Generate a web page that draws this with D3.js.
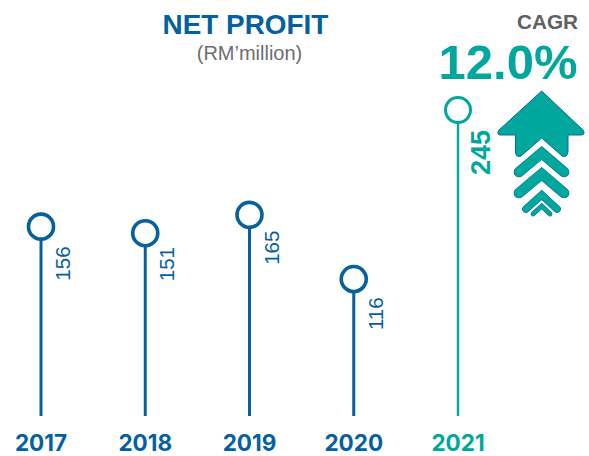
<!DOCTYPE html>
<html>
<head>
<meta charset="utf-8">
<script src="https://cdn.jsdelivr.net/npm/d3@7"></script>
<style>
  html, body { margin: 0; padding: 0; background: #fff; }
  svg { display: block; }
  text { font-family: "Liberation Sans", sans-serif; }
</style>
</head>
<body>
<div id="chart"></div>
<script>
// Chart data
var years = ["2017", "2018", "2019", "2020", "2021"];
var profit = [156, 151, 165, 116, 245];
var highlightYear = "2021";

var svgWidth = 589;
var svgHeight = 456;
var blue = "#04609e";
var teal = "#00a79d";

// Distance from head centre to the start of each rotated label
var labelDrop = { "2017": 54, "2018": 48, "2019": 50, "2020": 51, "2021": 65 };

var svg = d3.select("#chart")
  .append("svg")
  .attr("width", svgWidth)
  .attr("height", svgHeight);

// Scales - stems are cut off above the year labels, so the domain does not start at 0
var xScale = d3.scalePoint().domain(years).range([41, 458]);
var yScale = d3.scaleLinear().domain([11.5, 245]).range([416, 110]);

function colour(year) {
  return year === highlightYear ? teal : blue;
}

var rows = years.map(function(y, i) {
  return { year: y, value: profit[i] };
});

// Titles
svg.append("text")
  .attr("x", 245.5).attr("y", 34)
  .attr("text-anchor", "middle")
  .attr("font-size", 27.9).attr("font-weight", 700)
  .attr("fill", blue)
  .text("NET PROFIT");

svg.append("text")
  .attr("x", 249.5).attr("y", 60)
  .attr("text-anchor", "middle")
  .attr("font-size", 20)
  .attr("fill", "#6d6e71")
  .text("(RM’million)");

svg.append("text")
  .attr("x", 547.5).attr("y", 29)
  .attr("text-anchor", "middle")
  .attr("font-size", 20.7).attr("font-weight", 700)
  .attr("fill", "#5f6062")
  .text("CAGR");

svg.append("text")
  .attr("x", 508).attr("y", 79)
  .attr("text-anchor", "middle")
  .attr("font-size", 49).attr("font-weight", 700)
  .attr("fill", teal)
  .text("12.0%");

// Stems
svg.selectAll(".stem")
  .data(rows)
  .enter()
  .append("line")
  .attr("class", "stem")
  .attr("x1", d => xScale(d.year))
  .attr("x2", d => xScale(d.year))
  .attr("y1", d => yScale(d.value))
  .attr("y2", yScale(11.5))
  .attr("stroke", d => colour(d.year))
  .attr("stroke-width", d => d.year === highlightYear ? 2.4 : 3);

// Lollipop heads
svg.selectAll(".head")
  .data(rows)
  .enter()
  .append("circle")
  .attr("class", "head")
  .attr("cx", d => xScale(d.year))
  .attr("cy", d => yScale(d.value))
  .attr("r", 12.5)
  .attr("fill", "#fff")
  .attr("stroke", d => colour(d.year))
  .attr("stroke-width", d => d.year === highlightYear ? 3 : 3.6);

// Value labels, rotated along the stem
svg.selectAll(".value")
  .data(rows)
  .enter()
  .append("text")
  .attr("class", "value")
  .attr("transform", d => `translate(${xScale(d.year) + (d.year === highlightYear ? 32 : 29)}, ${yScale(d.value) + labelDrop[d.year]}) rotate(-90)`)
  .attr("font-size", d => d.year === highlightYear ? 27 : 20.5)
  .attr("font-weight", d => d.year === highlightYear ? 700 : 400)
  .attr("fill", d => colour(d.year))
  .text(d => d.value);

// Year labels
svg.selectAll(".year")
  .data(rows)
  .enter()
  .append("text")
  .attr("class", "year")
  .attr("x", d => xScale(d.year))
  .attr("y", 451)
  .attr("text-anchor", "middle")
  .attr("font-size", 22.5).attr("font-weight", 700)
  .style("font-family", "Inter, sans-serif")
  .attr("fill", d => colour(d.year))
  .text(d => d.year);

// CAGR arrow
svg.append("path")
  .attr("d", "M541.7,91 L583,130 Q586,135 581,135 L568,135 L568,152 Q567,158 562,156 L541.7,138 L521,156 Q516,158 515.5,152 L515.5,135 L501,135 Q496,135 499,130 Z")
  .attr("fill", teal)
  .attr("stroke", "#0b6aa2")
  .attr("stroke-width", 1)
  .attr("stroke-linejoin", "round");

var chevrons = [
  { d: "M519,172 L541.7,153 L564,172", w: 9.5 },
  { d: "M519,193 L541.7,174 L564,193", w: 9.5 },
  { d: "M526,209 L541.7,195 L557,209", w: 6.5 },
  { d: "M533,214 L541.7,206 L550,214", w: 3.5 }
];

// dark outline first, teal on top
svg.selectAll(".chevron-edge")
  .data(chevrons)
  .enter()
  .append("path")
  .attr("class", "chevron-edge")
  .attr("d", d => d.d)
  .attr("fill", "none")
  .attr("stroke", "#0b6aa2")
  .attr("stroke-width", d => d.w + 1.2)
  .attr("stroke-linecap", "round");

svg.selectAll(".chevron")
  .data(chevrons)
  .enter()
  .append("path")
  .attr("class", "chevron")
  .attr("d", d => d.d)
  .attr("fill", "none")
  .attr("stroke", teal)
  .attr("stroke-width", d => d.w)
  .attr("stroke-linecap", "round");
</script>
</body>
</html>
